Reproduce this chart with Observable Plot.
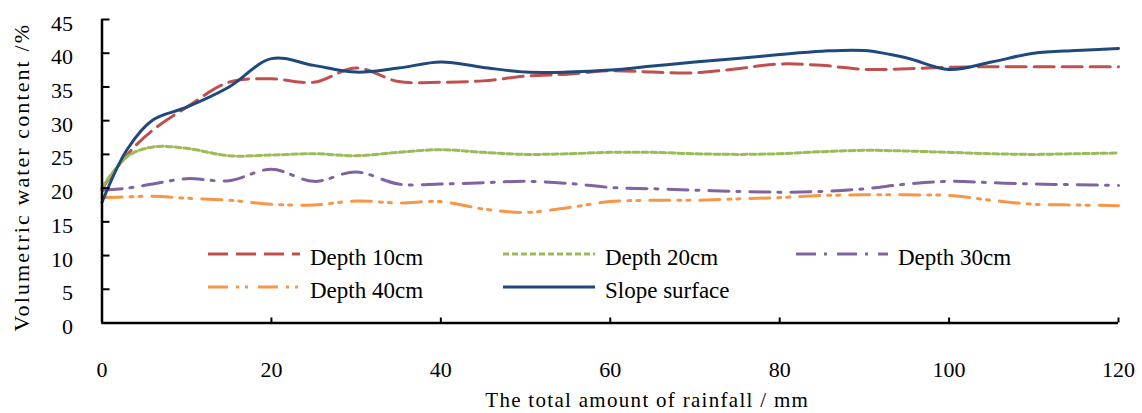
<!DOCTYPE html>
<html><head><meta charset="utf-8">
<script src="https://cdn.jsdelivr.net/npm/d3@7"></script>
<script src="https://cdn.jsdelivr.net/npm/@observablehq/plot@0.6"></script>
<style>
body{margin:0;background:#fff;}
#chart{position:relative;width:1142px;height:413px;}
#chart svg{position:absolute;left:0;top:0;}
</style></head><body><div id="chart"></div>
<script>
// ---- data ----
const rainfall     = [0,3,6,10,15,20,25,30,35,40,45,50,55,60,65,70,75,80,85,90,95,100,105,110,115,120];
const depth10      = [19.9,25.0,28.6,32.0,35.7,36.2,35.7,37.8,35.8,35.7,35.9,36.6,36.9,37.4,37.2,37.1,37.7,38.4,38.2,37.6,37.7,37.9,38.0,38.0,38.0,38.0];
const depth20      = [20.1,24.7,26.1,25.9,24.8,24.9,25.1,24.8,25.3,25.7,25.3,25.0,25.1,25.3,25.3,25.1,25.0,25.1,25.4,25.6,25.5,25.3,25.1,25.0,25.1,25.2];
const depth30      = [19.7,20.0,20.6,21.4,21.1,22.8,21.0,22.4,20.6,20.6,20.8,21.0,20.7,20.1,19.9,19.7,19.5,19.4,19.5,19.9,20.6,21.0,20.8,20.6,20.5,20.4];
const depth40      = [18.6,18.7,18.8,18.5,18.2,17.6,17.5,18.1,17.8,18.0,16.9,16.4,17.1,18.0,18.2,18.2,18.4,18.6,18.9,19.0,19.0,18.9,18.2,17.6,17.5,17.4];
const slopeSurface = [17.9,25.8,30.1,32.0,35.0,39.2,38.2,37.2,37.8,38.7,37.9,37.2,37.2,37.5,38.1,38.7,39.2,39.8,40.3,40.4,39.3,37.6,38.7,40.0,40.4,40.7];

const seriesNames  = ["Depth 10cm","Depth 20cm","Depth 30cm","Depth 40cm","Slope surface"];
const seriesColors = ["#C0504D","#9BBB59","#8064A2","#F79646","#1F497D"];
const seriesDash   = ["20 8","6 3","20 8 3 10","20 8 3 6 3 10",null];
const xTicks = [0,20,40,60,80,100,120];
const yTicks = [0,5,10,15,20,25,30,35,40,45];
const xTitle = "The total amount of rainfall / mm";
const yTitle = "Volumetric water content /%";

// ---- layout ----
const W = 1142, H = 413;
const mL = 101.5, mR = 24, mT = 19, mB = 90.5;
const frameW = W - mL - mR, frameH = H - mT - mB;
const font = "'Liberation Serif','Times New Roman',serif";

const values = [depth10, depth20, depth30, depth40, slopeSurface];
const tables = values.map((vals, si) => rainfall.map((r, i) => ({series: seriesNames[si], rainfall: r, value: vals[i]})));

const lineMarks = tables.map((t, si) => Plot.line(t, {
  x: "rainfall", y: "value", curve: "catmull-rom",
  stroke: seriesColors[si], strokeWidth: 3,
  strokeDasharray: seriesDash[si] || undefined
}));

const plot = Plot.plot({
  width: W, height: H,
  marginLeft: mL, marginRight: mR, marginTop: mT, marginBottom: mB,
  style: {fontFamily: font, fontSize: "22px", color: "#000", background: "#fff"},
  x: {domain: [0,120], label: null},
  y: {domain: [0,45], label: null},
  marks: [
    ...lineMarks,
    Plot.ruleX([0], {stroke: "#000", strokeWidth: 2.5}),
    Plot.ruleY([0], {stroke: "#000", strokeWidth: 2.5}),
    Plot.tickY(yTicks, {y: d => d, stroke: "#000", strokeWidth: 2, insetRight: frameW - 8}),
    Plot.tickX(xTicks.filter(d => d > 0), {x: d => d, stroke: "#000", strokeWidth: 2, insetTop: frameH - 5}),
    Plot.axisX({ticks: xTicks, tickSize: 0, tickPadding: 38, fontSize: 22, label: null}),
    Plot.axisY({ticks: yTicks, tickSize: 0, tickPadding: 29, dy: 4, fontSize: 22, label: null}),
    Plot.text([xTitle], {text: d => d, frameAnchor: "bottom", textAnchor: "middle", dx: 37, dy: 84, fontSize: 21}),
    Plot.text([yTitle], {text: d => d, frameAnchor: "left", textAnchor: "middle", rotate: -90, dx: -80, dy: 6, fontSize: 22})
  ]
});
const chart = document.getElementById("chart");
chart.appendChild(plot);

// letter spacing for the axis titles
d3.select(plot).selectAll("text").each(function() {
  const t = this.textContent;
  if (t === xTitle) this.setAttribute("letter-spacing", "1.3");
  if (t === yTitle) this.setAttribute("letter-spacing", "2.1");
});

// ---- legend (inside the plot area) ----
const legendPos = [[208,254],[503,254],[796,254],[208,287],[503,287]];
const sampleLen = 92;
const leg = d3.select(chart).append("svg")
  .attr("width", W).attr("height", H)
  .style("pointer-events", "none")
  .attr("font-family", font).attr("font-size", 23);
seriesNames.forEach((name, i) => {
  const [lx, ly] = legendPos[i];
  leg.append("line")
    .attr("x1", lx).attr("x2", lx + sampleLen).attr("y1", ly).attr("y2", ly)
    .attr("stroke", seriesColors[i]).attr("stroke-width", 3)
    .attr("stroke-dasharray", seriesDash[i]);
  leg.append("text")
    .attr("x", lx + 102).attr("y", ly + 11)
    .attr("fill", "#000")
    .text(name);
});
</script></body></html>
